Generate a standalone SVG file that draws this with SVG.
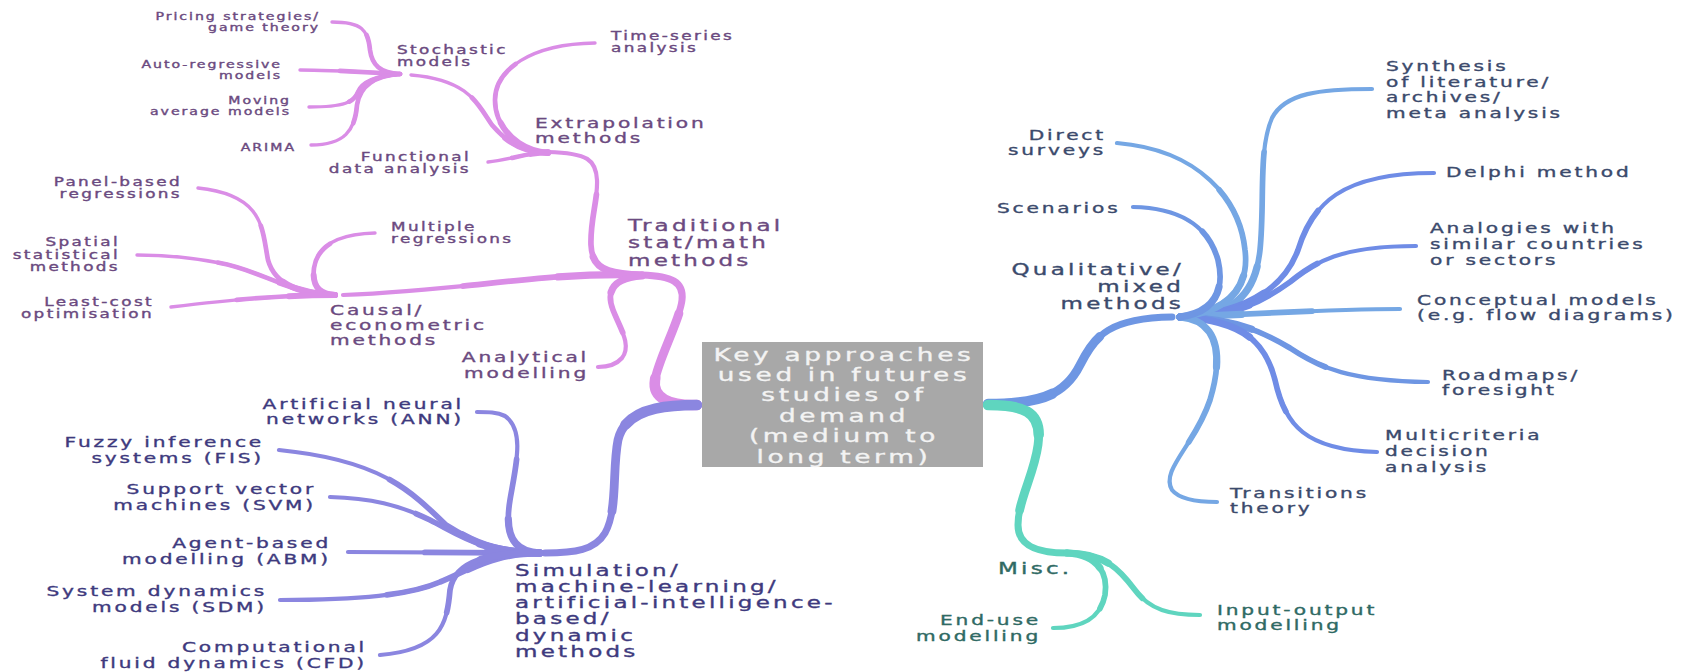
<svg xmlns="http://www.w3.org/2000/svg" width="1689" height="672" viewBox="0 0 1689 672">
<style>
.t{font-family:"DejaVu Sans",Verdana,sans-serif;letter-spacing:0.14em;stroke-width:0.35}
.c0{font-size:18.3px;fill:#f3f3f3;stroke:#f3f3f3}
.l1{font-size:16px}
.l2{font-size:14px}
.l3{font-size:11.7px}
.l4{font-size:9.8px}
.e{text-anchor:end}
.m{text-anchor:middle}
.pk{fill:#6b4a80;stroke:#6b4a80}
.pu{fill:#3e3a7e;stroke:#3e3a7e}
.bl{fill:#3b4a6c;stroke:#3b4a6c}
.tl{fill:#2f6a64;stroke:#2f6a64}
.cn use{fill:none;stroke-linecap:round;stroke-linejoin:round}
.pink{stroke:#da8de6}
.purp{stroke:#8b86e0}
.blue{stroke:#6e96e3}
.sky{stroke:#75a7e4}
.peri{stroke:#6f8ce6}
.teal{stroke:#5fd5bf}
.ma{stroke-width:7}
.mb{stroke-width:8.8;stroke-dasharray:65 200}
.mc{stroke-width:10.5;stroke-dasharray:30 200}
.la{stroke-width:4.2}
.lb{stroke-width:5.7;stroke-dasharray:60 200}
.lc{stroke-width:7.2;stroke-dasharray:28 200}
.sa{stroke-width:3.4}
.sb{stroke-width:4.7;stroke-dasharray:60 200}
.sc{stroke-width:6;stroke-dasharray:28 200}
</style>
<defs>
  <path id="c-trad" pathLength="100" d="M697,405 C670,406 652,398 655,380 C658,360 680,320 682,300 C684,282 672,276 642,275"/>
  <path id="c-extra" pathLength="100" d="M642,275 C605,274 592,268 591,245 C590,220 598,200 597,180 C596,160 588,153 548,152"/>
  <path id="c-causal" pathLength="100" d="M642,275 C540,272 470,290 343,295"/>
  <path id="c-anal" pathLength="100" d="M642,276 C612,278 606,292 613,310 C620,328 632,345 622,358 C615,366 605,367 598,367"/>
  <path id="c-stoch" pathLength="100" d="M548,153 C520,152 505,140 492,125 C478,105 470,80 411,75"/>
  <path id="c-time" pathLength="100" d="M548,153 C515,150 495,125 495,100 C495,70 530,44 595,43"/>
  <path id="c-func" pathLength="100" d="M548,152 C525,153 510,160 488,162"/>
  <path id="c-pricing" pathLength="100" d="M400,74 C380,73 372,65 370,50 C368,30 362,22 332,22"/>
  <path id="c-auto" pathLength="100" d="M400,74 C360,72 330,70 300,70"/>
  <path id="c-moving" pathLength="100" d="M400,74 C375,76 362,82 358,92 C354,102 345,107 309,107"/>
  <path id="c-arima" pathLength="100" d="M400,74 C375,76 360,85 357,105 C355,130 345,145 311,145"/>
  <path id="c-panel" pathLength="100" d="M335,295 C300,294 275,285 268,260 C262,230 265,195 198,188"/>
  <path id="c-multiple" pathLength="100" d="M335,295 C318,294 312,285 314,268 C317,248 335,234 375,233"/>
  <path id="c-spatial" pathLength="100" d="M335,295 C290,294 260,270 220,263 C190,257 165,255 137,255"/>
  <path id="c-least" pathLength="100" d="M335,295 C280,295 230,300 171,307"/>
  <path id="c-sim" pathLength="100" d="M697,405 C660,405 625,410 618,440 C612,470 618,510 605,533 C595,550 575,553 545,553"/>
  <path id="c-ann" pathLength="100" d="M540,553 C510,552 505,530 510,500 C516,465 525,430 505,416 C497,412 488,412 477,412"/>
  <path id="c-fis" pathLength="100" d="M540,553 C490,552 470,540 446,525 C410,490 380,460 279,450"/>
  <path id="c-svm" pathLength="100" d="M540,553 C480,552 460,535 430,520 C400,505 370,498 330,497"/>
  <path id="c-abm" pathLength="100" d="M540,553 L348,552"/>
  <path id="c-sdm" pathLength="100" d="M540,553 C490,553 470,570 440,582 C410,595 360,600 280,600"/>
  <path id="c-cfd" pathLength="100" d="M540,553 C490,553 455,560 450,590 C447,625 440,650 380,655"/>
  <path id="c-qual" pathLength="100" d="M988,404 C1040,404 1065,395 1080,365 C1095,335 1110,318 1172,317"/>
  <path id="c-synth" pathLength="100" d="M1180,317 C1235,315 1255,295 1260,250 C1265,200 1258,150 1272,118 C1285,93 1320,89 1372,89"/>
  <path id="c-delphi" pathLength="100" d="M1180,317 C1250,314 1285,285 1298,250 C1312,205 1340,173 1434,173"/>
  <path id="c-analog" pathLength="100" d="M1180,317 C1240,315 1265,300 1290,282 C1315,262 1340,246 1416,246"/>
  <path id="c-concept" pathLength="100" d="M1180,317 C1260,314 1330,309 1400,309"/>
  <path id="c-road" pathLength="100" d="M1180,317 C1230,318 1260,330 1290,348 C1320,368 1350,381 1428,382"/>
  <path id="c-multi" pathLength="100" d="M1180,317 C1240,320 1265,340 1275,380 C1285,425 1305,450 1377,452"/>
  <path id="c-trans" pathLength="100" d="M1180,317 C1215,320 1225,350 1210,400 C1195,445 1160,470 1172,490 C1180,500 1200,502 1217,502"/>
  <path id="c-direct" pathLength="100" d="M1180,317 C1225,312 1250,290 1245,250 C1240,200 1200,150 1117,143"/>
  <path id="c-scen" pathLength="100" d="M1180,317 C1215,312 1225,290 1218,260 C1208,225 1180,208 1133,207"/>
  <path id="c-misc" pathLength="100" d="M988,405 C1030,405 1042,415 1038,445 C1034,475 1018,500 1018,525 C1018,545 1035,553 1067,553"/>
  <path id="c-enduse" pathLength="100" d="M1067,553 C1100,555 1108,575 1105,595 C1100,620 1080,628 1053,628"/>
  <path id="c-io" pathLength="100" d="M1067,553 C1105,553 1120,570 1135,590 C1150,610 1170,615 1200,615"/>
</defs>

<g id="connectors" class="cn">
  <use href="#c-trad" class="pink ma"/><use href="#c-trad" class="pink mb"/><use href="#c-trad" class="pink mc"/>
  <use href="#c-extra" class="pink la"/><use href="#c-extra" class="pink lb"/><use href="#c-extra" class="pink lc"/>
  <use href="#c-causal" class="pink la"/><use href="#c-causal" class="pink lb"/><use href="#c-causal" class="pink lc"/>
  <use href="#c-anal" class="pink la"/><use href="#c-anal" class="pink lb"/><use href="#c-anal" class="pink lc"/>
  <use href="#c-stoch" class="pink sa"/><use href="#c-stoch" class="pink sb"/><use href="#c-stoch" class="pink sc"/>
  <use href="#c-time" class="pink sa"/><use href="#c-time" class="pink sb"/><use href="#c-time" class="pink sc"/>
  <use href="#c-func" class="pink sa"/><use href="#c-func" class="pink sb"/><use href="#c-func" class="pink sc"/>
  <use href="#c-pricing" class="pink sa"/><use href="#c-pricing" class="pink sb"/>
  <use href="#c-auto" class="pink sa"/><use href="#c-auto" class="pink sb"/>
  <use href="#c-moving" class="pink sa"/><use href="#c-moving" class="pink sb"/>
  <use href="#c-arima" class="pink sa"/><use href="#c-arima" class="pink sb"/>
  <use href="#c-panel" class="pink sa"/><use href="#c-panel" class="pink sb"/><use href="#c-panel" class="pink sc"/>
  <use href="#c-multiple" class="pink sa"/><use href="#c-multiple" class="pink sb"/><use href="#c-multiple" class="pink sc"/>
  <use href="#c-spatial" class="pink sa"/><use href="#c-spatial" class="pink sb"/><use href="#c-spatial" class="pink sc"/>
  <use href="#c-least" class="pink sa"/><use href="#c-least" class="pink sb"/><use href="#c-least" class="pink sc"/>

  <use href="#c-sim" class="purp ma"/><use href="#c-sim" class="purp mb"/><use href="#c-sim" class="purp mc"/>
  <use href="#c-ann" class="purp la"/><use href="#c-ann" class="purp lb"/><use href="#c-ann" class="purp lc"/>
  <use href="#c-fis" class="purp la"/><use href="#c-fis" class="purp lb"/><use href="#c-fis" class="purp lc"/>
  <use href="#c-svm" class="purp la"/><use href="#c-svm" class="purp lb"/><use href="#c-svm" class="purp lc"/>
  <use href="#c-abm" class="purp la"/><use href="#c-abm" class="purp lb"/><use href="#c-abm" class="purp lc"/>
  <use href="#c-sdm" class="purp la"/><use href="#c-sdm" class="purp lb"/><use href="#c-sdm" class="purp lc"/>
  <use href="#c-cfd" class="purp la"/><use href="#c-cfd" class="purp lb"/><use href="#c-cfd" class="purp lc"/>

  <use href="#c-qual" class="blue ma"/><use href="#c-qual" class="blue mb"/><use href="#c-qual" class="blue mc"/>
  <use href="#c-synth" class="sky la"/><use href="#c-synth" class="sky lb"/><use href="#c-synth" class="sky lc"/>
  <use href="#c-delphi" class="peri la"/><use href="#c-delphi" class="peri lb"/><use href="#c-delphi" class="peri lc"/>
  <use href="#c-analog" class="peri la"/><use href="#c-analog" class="peri lb"/><use href="#c-analog" class="peri lc"/>
  <use href="#c-concept" class="sky la"/><use href="#c-concept" class="sky lb"/><use href="#c-concept" class="sky lc"/>
  <use href="#c-road" class="blue la"/><use href="#c-road" class="blue lb"/><use href="#c-road" class="blue lc"/>
  <use href="#c-multi" class="peri la"/><use href="#c-multi" class="peri lb"/><use href="#c-multi" class="peri lc"/>
  <use href="#c-trans" class="sky la"/><use href="#c-trans" class="sky lb"/><use href="#c-trans" class="sky lc"/>
  <use href="#c-direct" class="sky la"/><use href="#c-direct" class="sky lb"/><use href="#c-direct" class="sky lc"/>
  <use href="#c-scen" class="blue la"/><use href="#c-scen" class="blue lb"/><use href="#c-scen" class="blue lc"/>

  <use href="#c-misc" class="teal ma"/><use href="#c-misc" class="teal mb"/><use href="#c-misc" class="teal mc"/>
  <use href="#c-enduse" class="teal la"/><use href="#c-enduse" class="teal lb"/><use href="#c-enduse" class="teal lc"/>
  <use href="#c-io" class="teal la"/><use href="#c-io" class="teal lb"/><use href="#c-io" class="teal lc"/>
</g>

<g id="center">
  <rect x="702" y="342" width="281" height="125" fill="#a8a8a8"/>
  <text class="t c0 m" transform="translate(844,360.6) scale(1.44,1)"><tspan x="0">Key approaches</tspan><tspan x="0" dy="20.4">used in futures</tspan><tspan x="0" dy="20.4">studies of</tspan><tspan x="0" dy="20.4">demand</tspan><tspan x="0" dy="20.4">(medium to</tspan><tspan x="0" dy="20.4">long term)</tspan></text>
</g>

<g id="n-traditional" transform="translate(628,231)"><text class="t l1 pk" transform="scale(1.44,1)"><tspan x="0">Traditional</tspan><tspan x="0" dy="17.5">stat/math</tspan><tspan x="0" dy="17.5">methods</tspan></text></g>
<g id="n-extrapolation" transform="translate(535,128)"><text class="t l2 pk" transform="scale(1.44,1)"><tspan x="0">Extrapolation</tspan><tspan x="0" dy="15">methods</tspan></text></g>
<g id="n-causal" transform="translate(330,315)"><text class="t l2 pk" transform="scale(1.44,1)"><tspan x="0">Causal/</tspan><tspan x="0" dy="15">econometric</tspan><tspan x="0" dy="15">methods</tspan></text></g>
<g id="n-analytical" transform="translate(589,362)"><text class="t l2 pk e" transform="scale(1.44,1)"><tspan x="0">Analytical</tspan><tspan x="0" dy="16">modelling</tspan></text></g>
<g id="n-stochastic" transform="translate(397,54.2)"><text class="t l3 pk" transform="scale(1.44,1)"><tspan x="0">Stochastic</tspan><tspan x="0" dy="12">models</tspan></text></g>
<g id="n-functional" transform="translate(471,161.2)"><text class="t l3 pk e" transform="scale(1.44,1)"><tspan x="0">Functional</tspan><tspan x="0" dy="11.5">data analysis</tspan></text></g>
<g id="n-timeseries" transform="translate(611,40.2)"><text class="t l3 pk" transform="scale(1.44,1)"><tspan x="0">Time-series</tspan><tspan x="0" dy="12">analysis</tspan></text></g>
<g id="n-pricing" transform="translate(320,19.5)"><text class="t l4 pk e" transform="scale(1.44,1)"><tspan x="0">Pricing strategies/</tspan><tspan x="0" dy="12">game theory</tspan></text></g>
<g id="n-autoregressive" transform="translate(282,67.5)"><text class="t l4 pk e" transform="scale(1.44,1)"><tspan x="0">Auto-regressive</tspan><tspan x="0" dy="11.5">models</tspan></text></g>
<g id="n-moving" transform="translate(291,103.5)"><text class="t l4 pk e" transform="scale(1.44,1)"><tspan x="0">Moving</tspan><tspan x="0" dy="12">average models</tspan></text></g>
<g id="n-arima" transform="translate(296,150.5)"><text class="t l4 pk e" transform="scale(1.44,1)"><tspan x="0">ARIMA</tspan></text></g>
<g id="n-panel" transform="translate(182,186.2)"><text class="t l3 pk e" transform="scale(1.44,1)"><tspan x="0">Panel-based</tspan><tspan x="0" dy="11.5">regressions</tspan></text></g>
<g id="n-multiple" transform="translate(391,231.2)"><text class="t l3 pk" transform="scale(1.44,1)"><tspan x="0">Multiple</tspan><tspan x="0" dy="12">regressions</tspan></text></g>
<g id="n-spatial" transform="translate(120,246.2)"><text class="t l3 pk e" transform="scale(1.44,1)"><tspan x="0">Spatial</tspan><tspan x="0" dy="12.5">statistical</tspan><tspan x="0" dy="12.5">methods</tspan></text></g>
<g id="n-leastcost" transform="translate(154,306.2)"><text class="t l3 pk e" transform="scale(1.44,1)"><tspan x="0">Least-cost</tspan><tspan x="0" dy="11.5">optimisation</tspan></text></g>

<g id="n-simulation" transform="translate(515,575.8)"><text class="t l1 pu" transform="scale(1.44,1)"><tspan x="0">Simulation/</tspan><tspan x="0" dy="16.2">machine-learning/</tspan><tspan x="0" dy="16.2">artificial-intelligence-</tspan><tspan x="0" dy="16.2">based/</tspan><tspan x="0" dy="16.2">dynamic</tspan><tspan x="0" dy="16.2">methods</tspan></text></g>
<g id="n-ann" transform="translate(464,409)"><text class="t l2 pu e" transform="scale(1.44,1)"><tspan x="0">Artificial neural</tspan><tspan x="0" dy="15.5">networks (ANN)</tspan></text></g>
<g id="n-fis" transform="translate(264,447)"><text class="t l2 pu e" transform="scale(1.44,1)"><tspan x="0">Fuzzy inference</tspan><tspan x="0" dy="16">systems (FIS)</tspan></text></g>
<g id="n-svm" transform="translate(316,494)"><text class="t l2 pu e" transform="scale(1.44,1)"><tspan x="0">Support vector</tspan><tspan x="0" dy="16">machines (SVM)</tspan></text></g>
<g id="n-abm" transform="translate(331,548)"><text class="t l2 pu e" transform="scale(1.44,1)"><tspan x="0">Agent-based</tspan><tspan x="0" dy="16">modelling (ABM)</tspan></text></g>
<g id="n-sdm" transform="translate(267,596)"><text class="t l2 pu e" transform="scale(1.44,1)"><tspan x="0">System dynamics</tspan><tspan x="0" dy="16">models (SDM)</tspan></text></g>
<g id="n-cfd" transform="translate(367,652)"><text class="t l2 pu e" transform="scale(1.44,1)"><tspan x="0">Computational</tspan><tspan x="0" dy="16">fluid dynamics (CFD)</tspan></text></g>

<g id="n-qualitative" transform="translate(1184,275)"><text class="t l1 bl e" transform="scale(1.44,1)"><tspan x="0">Qualitative/</tspan><tspan x="0" dy="17">mixed</tspan><tspan x="0" dy="17">methods</tspan></text></g>
<g id="n-direct" transform="translate(1106,140)"><text class="t l2 bl e" transform="scale(1.44,1)"><tspan x="0">Direct</tspan><tspan x="0" dy="15">surveys</tspan></text></g>
<g id="n-scenarios" transform="translate(997,213)"><text class="t l2 bl" transform="scale(1.44,1)"><tspan x="0">Scenarios</tspan></text></g>
<g id="n-synthesis" transform="translate(1386,71)"><text class="t l2 bl" transform="scale(1.44,1)"><tspan x="0">Synthesis</tspan><tspan x="0" dy="15.7">of literature/</tspan><tspan x="0" dy="15.7">archives/</tspan><tspan x="0" dy="15.7">meta analysis</tspan></text></g>
<g id="n-delphi" transform="translate(1446,177)"><text class="t l2 bl" transform="scale(1.44,1)"><tspan x="0">Delphi method</tspan></text></g>
<g id="n-analogies" transform="translate(1430,233)"><text class="t l2 bl" transform="scale(1.44,1)"><tspan x="0">Analogies with</tspan><tspan x="0" dy="16">similar countries</tspan><tspan x="0" dy="16">or sectors</tspan></text></g>
<g id="n-conceptual" transform="translate(1417,305)"><text class="t l2 bl" transform="scale(1.44,1)"><tspan x="0">Conceptual models</tspan><tspan x="0" dy="15.5">(e.g. flow diagrams)</tspan></text></g>
<g id="n-roadmaps" transform="translate(1442,380)"><text class="t l2 bl" transform="scale(1.44,1)"><tspan x="0">Roadmaps/</tspan><tspan x="0" dy="15">foresight</tspan></text></g>
<g id="n-multicriteria" transform="translate(1385,440)"><text class="t l2 bl" transform="scale(1.44,1)"><tspan x="0">Multicriteria</tspan><tspan x="0" dy="16">decision</tspan><tspan x="0" dy="16">analysis</tspan></text></g>
<g id="n-transitions" transform="translate(1230,498)"><text class="t l2 bl" transform="scale(1.44,1)"><tspan x="0">Transitions</tspan><tspan x="0" dy="15">theory</tspan></text></g>

<g id="n-misc" transform="translate(998,574)"><text class="t l1 tl" transform="scale(1.44,1)"><tspan x="0">Misc.</tspan></text></g>
<g id="n-enduse" transform="translate(1041,625)"><text class="t l2 tl e" transform="scale(1.44,1)"><tspan x="0">End-use</tspan><tspan x="0" dy="16">modelling</tspan></text></g>
<g id="n-inputoutput" transform="translate(1217,615)"><text class="t l2 tl" transform="scale(1.44,1)"><tspan x="0">Input-output</tspan><tspan x="0" dy="15">modelling</tspan></text></g>
</svg>
